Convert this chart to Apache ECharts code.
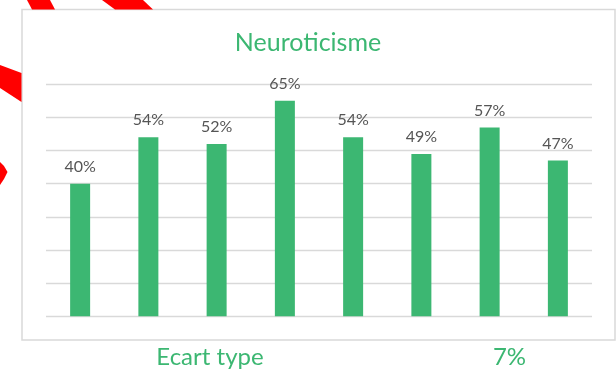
<!DOCTYPE html>
<html>
<head>
<meta charset="utf-8">
<script src="https://cdn.jsdelivr.net/npm/echarts@6/dist/echarts.min.js"></script>
<style>
  html, body { margin: 0; padding: 0; background: #ffffff; }
  #chart { width: 616px; height: 371px; }
</style>
</head>
<body>
<div id="chart"></div>
<script>
// Eight survey groups, one neuroticism score each (percent)
const categories = ['G1', 'G2', 'G3', 'G4', 'G5', 'G6', 'G7', 'G8'];
const scores = [40, 54, 52, 65, 54, 49, 57, 47];
const yTicks = [0, 10, 20, 30, 40, 50, 60, 70];
const chartTitle = 'Neuroticisme';
const stdCaption = 'Ecart type';
const stdValue = '7%';

const GREEN = '#3cb772';
const FONT = 'Lato, "Open Sans", sans-serif';

const chart = echarts.init(document.getElementById('chart'), null, { renderer: 'canvas' });

chart.setOption({
  animation: false,
  backgroundColor: '#ffffff',
  title: {
    text: chartTitle,
    left: 'center',
    top: 30,
    padding: 0,
    textStyle: { color: GREEN, fontFamily: FONT, fontSize: 25, fontWeight: 'normal' }
  },
  grid: { left: 46, right: 24, top: 84.3, bottom: 54.7, containLabel: false },
  xAxis: {
    type: 'category',
    data: categories,
    axisLine: { show: false },
    axisTick: { show: false },
    axisLabel: { show: false }
  },
  yAxis: {
    type: 'value',
    min: yTicks[0],
    max: yTicks[yTicks.length - 1],
    interval: yTicks[1] - yTicks[0],
    axisLine: { show: false },
    axisTick: { show: false },
    axisLabel: { show: false },
    splitLine: { lineStyle: { color: '#d9d9d9', width: 1.3 } }
  },
  series: [{
    type: 'bar',
    data: scores,
    barWidth: 20,
    itemStyle: { color: GREEN },
    label: {
      show: true,
      position: 'top',
      distance: 9,
      formatter: p => p.value + '%',
      color: '#555555',
      fontFamily: FONT,
      fontSize: 16
    }
  }],
  graphic: [
    // red dashed annotation stroke peeking out from behind the frame
    { type: 'polygon', z: 0, shape: { points: [[27, 0], [50, 0], [55, 9.5], [32, 9.5]] }, style: { fill: '#ff0000' } },
    { type: 'polygon', z: 0, shape: { points: [[102, 0], [143, 0], [153, 9.5], [115, 9.5]] }, style: { fill: '#ff0000' } },
    { type: 'polygon', z: 0, shape: { points: [[0, 65], [21.5, 73], [21.5, 102], [0, 88]] }, style: { fill: '#ff0000' } },
    { type: 'polygon', z: 0, shape: { points: [[0, 162], [4, 166], [7.5, 172], [4, 179], [0, 185]] }, style: { fill: '#ff0000' } },
    // chart frame
    {
      type: 'rect', z: -1, silent: true,
      shape: { x: 22, y: 9.5, width: 593, height: 330.5 },
      style: { fill: '#ffffff', stroke: '#d9d9d9', lineWidth: 1.5 }
    },
    {
      type: 'text', z: 10,
      style: { text: stdCaption, x: 210, y: 357, align: 'center', verticalAlign: 'middle',
               fill: GREEN, font: '24px ' + FONT }
    },
    {
      type: 'text', z: 10,
      style: { text: stdValue, x: 509.5, y: 357, align: 'center', verticalAlign: 'middle',
               fill: GREEN, font: '24px ' + FONT }
    }
  ]
});
</script>
</body>
</html>
